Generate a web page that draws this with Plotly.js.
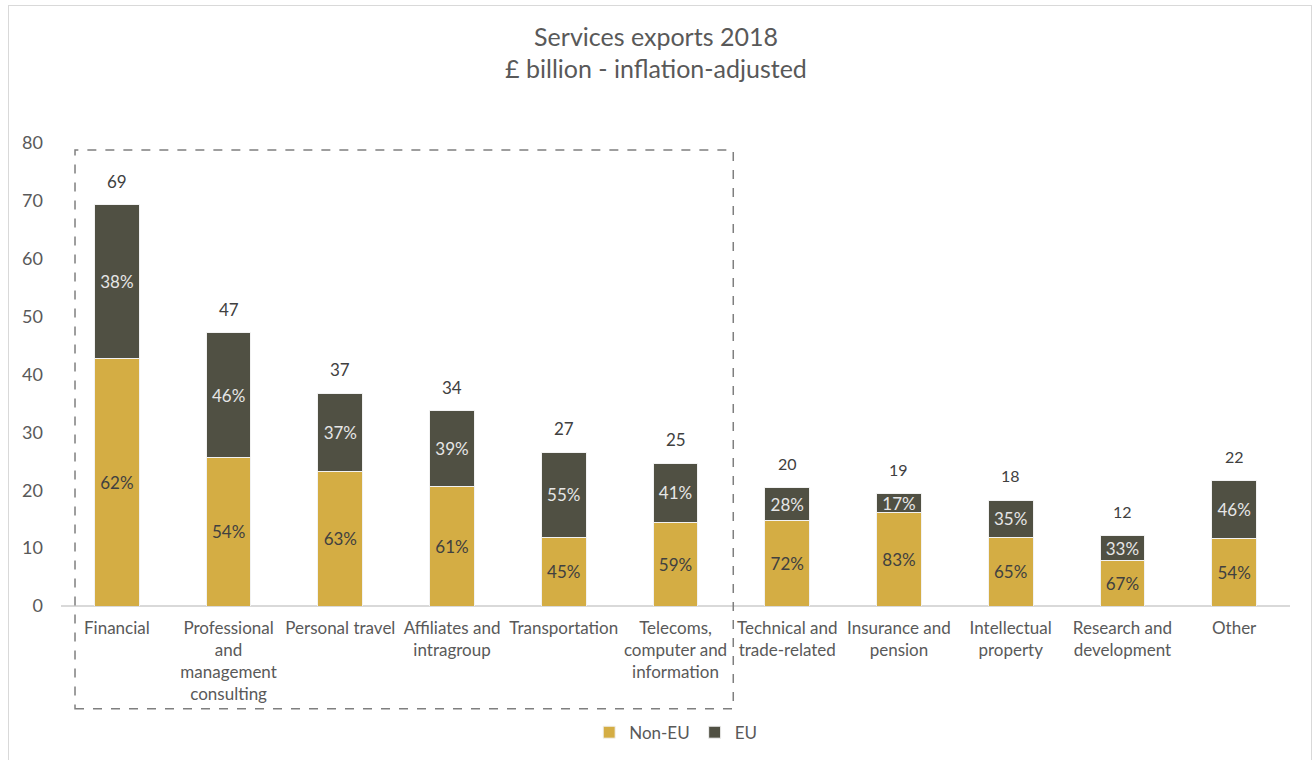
<!DOCTYPE html>
<html>
<head>
<meta charset="utf-8">
<script src="https://cdn.plot.ly/plotly-3.0.1.min.js"></script>
<style>
  html, body { margin: 0; padding: 0; background: #ffffff; }
  #wrap { position: relative; width: 1312px; height: 760px; overflow: hidden; }
  #chart { position: absolute; left: 0; top: 0; width: 1312px; height: 760px; }
  #frame { position: absolute; left: 8px; top: 5px; width: 1302px; height: 800px; border: 1px solid #d9d9d9; pointer-events: none; }
</style>
</head>
<body>
<div id="wrap">
  <div id="chart"></div>
  <div id="frame"></div>
</div>
<script>
// ---- data ----
const categories = [
  'Financial',
  'Professional<br>and<br>management<br>consulting',
  'Personal travel',
  'Affiliates and<br>intragroup',
  'Transportation',
  'Telecoms,<br>computer and<br>information',
  'Technical and<br>trade-related',
  'Insurance and<br>pension',
  'Intellectual<br>property',
  'Research and<br>development',
  'Other'
];
const nonEU = [42.7, 25.6, 23.3, 20.7, 11.9, 14.5, 14.7, 16.1, 11.9, 7.9, 11.6];
const eu    = [26.6, 21.6, 13.5, 13.0, 14.7, 10.2, 5.7, 3.3, 6.4, 4.2, 10.0];
const nonEUPct = ['62%', '54%', '63%', '61%', '45%', '59%', '72%', '83%', '65%', '67%', '54%'];
const euPct    = ['38%', '46%', '37%', '39%', '55%', '41%', '28%', '17%', '35%', '33%', '46%'];
const totals   = ['69', '47', '37', '34', '27', '25', '20', '19', '18', '12', '22'];
const totalValues = [69.3, 47.2, 36.8, 33.7, 26.6, 24.7, 20.4, 19.4, 18.3, 12.1, 21.6];
const yTicks = [0, 10, 20, 30, 40, 50, 60, 70, 80];

// ---- styles ----
const FONT = 'Lato, "Open Sans", "DejaVu Sans", sans-serif';
const GREY = '#595959';
const GOLD = '#D4AD44';
const DARK = '#505043';

const traces = [
  {
    type: 'bar', name: 'Non-EU', x: categories, y: nonEU,
    text: nonEUPct, textposition: 'inside', insidetextanchor: 'middle',
    textfont: { family: FONT, size: 17, color: '#404040' },
    marker: { color: GOLD, line: { color: '#f2f2f2', width: 1 } },
    hoverinfo: 'x+y+name'
  },
  {
    type: 'bar', name: 'EU', x: categories, y: eu,
    text: euPct, textposition: 'inside', insidetextanchor: 'middle',
    textfont: { family: FONT, size: 17, color: '#e6e6e6' },
    marker: { color: DARK, line: { color: '#f2f2f2', width: 1 } },
    hoverinfo: 'x+y+name'
  }
];

const annotations = categories.map((c, i) => ({
  x: c, y: totalValues[i], xref: 'x', yref: 'y',
  text: totals[i], showarrow: false, yanchor: 'bottom', yshift: i < 6 ? 11 : 13,
  font: { family: FONT, size: i < 6 ? 17 : 16, color: '#404040' }
}));

const layout = {
  width: 1312, height: 760,
  paper_bgcolor: 'rgba(0,0,0,0)', plot_bgcolor: 'rgba(0,0,0,0)',
  margin: { l: 61, r: 22, t: 143, b: 154 },
  barmode: 'stack', bargap: 0.6,
  font: { family: FONT, color: GREY },
  title: {
    text: 'Services exports 2018<br>£ billion - inflation-adjusted',
    x: 0.5, xref: 'container', xanchor: 'center',
    y: 0.94, yref: 'container', yanchor: 'top',
    font: { family: FONT, size: 25, color: GREY }
  },
  xaxis: {
    type: 'category', showgrid: false, zeroline: false,
    showline: false, ticks: '', ticklabelstandoff: 10,
    tickfont: { family: FONT, size: 17, color: GREY },
    tickangle: 0, automargin: false
  },
  yaxis: {
    range: [0, 80], tickvals: yTicks, showgrid: false,
    zeroline: true, zerolinecolor: '#d9d9d9', zerolinewidth: 2,
    showline: false, ticks: '', ticklabelstandoff: 17,
    tickfont: { family: FONT, size: 18, color: GREY },
    automargin: false, fixedrange: true
  },
  uniformtext: { mode: 'show', minsize: 17 },
  showlegend: true,
  legend: {
    orientation: 'h', xref: 'container', yref: 'container',
    x: 0.515, xanchor: 'center', y: 0.036, yanchor: 'middle',
    font: { family: FONT, size: 17, color: GREY }, traceorder: 'normal'
  },
  annotations: annotations,
  shapes: [{
    type: 'rect', xref: 'paper', yref: 'paper',
    x0: 0.0114, x1: 0.547, y0: -0.222, y1: 0.985,
    line: { color: '#7f7f7f', width: 1.5, dash: 'dash' }, fillcolor: 'rgba(0,0,0,0)'
  }]
};

Plotly.newPlot('chart', traces, layout, { displayModeBar: false, staticPlot: true });
</script>
</body>
</html>
